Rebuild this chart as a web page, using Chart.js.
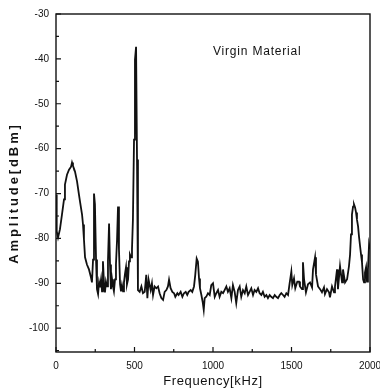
<!DOCTYPE html>
<html>
<head>
<meta charset="utf-8">
<script src="https://cdn.jsdelivr.net/npm/chart.js@4.4.1/dist/chart.umd.min.js"></script>
<style>
    html, body { margin: 0; padding: 0; background: #ffffff; }
    #spectrum { display: block; }
</style>
</head>
<body>
<canvas id="spectrum" width="380" height="392"></canvas>
<script>
// spectrum: frequency in kHz, amplitude in dBm
const frequency = [
    0, 3, 6, 13, 25, 38, 51, 57, 70, 83,
    96, 102, 108, 121, 134, 146, 153, 166, 172, 178,
    185, 197, 210, 223, 229, 236, 242, 248, 255, 261,
    268, 274, 280, 287, 293, 299, 306, 312, 318, 325,
    331, 338, 344, 350, 357, 363, 369, 376, 382, 389,
    395, 401, 408, 414, 420, 427, 433, 439, 446, 452,
    459, 465, 471, 478, 484, 490, 497, 503, 510, 516,
    522, 533, 544, 554, 565, 575, 582, 590, 603, 611,
    618, 628, 639, 650, 660, 671, 682, 692, 703, 713,
    720, 730, 741, 752, 760, 773, 781, 794, 805, 815,
    826, 836, 845, 858, 868, 879, 887, 896, 904, 911,
    917, 926, 934, 941, 947, 957, 968, 979, 989, 1000,
    1011, 1021, 1032, 1042, 1053, 1064, 1074, 1085, 1095, 1106,
    1117, 1127, 1138, 1148, 1159, 1170, 1180, 1191, 1202, 1212,
    1223, 1233, 1244, 1255, 1265, 1276, 1287, 1297, 1308, 1318,
    1329, 1340, 1350, 1361, 1371, 1382, 1393, 1403, 1414, 1425,
    1435, 1446, 1456, 1467, 1478, 1488, 1499, 1505, 1516, 1524,
    1537, 1548, 1554, 1567, 1573, 1580, 1592, 1605, 1618, 1631,
    1637, 1650, 1656, 1669, 1682, 1694, 1707, 1713, 1726, 1739,
    1745, 1758, 1771, 1777, 1790, 1796, 1809, 1822, 1828, 1841,
    1854, 1866, 1873, 1879, 1885, 1892, 1898, 1905, 1911, 1917,
    1924, 1930, 1937, 1943, 1949, 1956, 1962, 1968, 1975, 1981,
    1987, 1994, 2000
];
const amplitude = [
    -70.2, -74.7, -78.4, -79.8, -78.0, -74.7, -71.3, -68.0, -65.8, -64.7,
    -64.0, -63.1, -63.8, -65.1, -67.3, -70.2, -71.8, -74.7, -76.9, -80.2,
    -84.2, -85.8, -86.9, -88.7, -89.8, -84.7, -70.0, -72.4, -84.7, -91.3,
    -92.4, -89.8, -90.9, -89.1, -91.8, -85.1, -90.2, -92.0, -89.6, -90.7,
    -85.1, -76.7, -85.8, -91.3, -89.1, -90.7, -91.8, -89.1, -85.8, -80.2,
    -72.9, -82.4, -90.2, -91.8, -90.4, -91.8, -89.8, -88.0, -86.4, -90.2,
    -89.1, -85.1, -83.6, -84.2, -82.4, -75.8, -58.0, -40.2, -37.3, -62.4,
    -91.5, -91.9, -90.7, -92.2, -91.9, -88.1, -93.3, -89.2, -91.5, -90.0,
    -92.6, -90.7, -91.1, -90.7, -92.2, -93.3, -93.7, -91.9, -91.5, -90.7,
    -89.2, -91.1, -91.9, -92.2, -93.0, -92.2, -92.6, -91.9, -93.0, -92.2,
    -91.9, -92.6, -91.9, -91.5, -91.9, -90.7, -88.1, -84.5, -85.2, -88.9,
    -91.1, -92.6, -94.1, -95.9, -93.3, -93.0, -92.2, -92.6, -90.4, -90.0,
    -93.0, -92.2, -91.5, -93.0, -91.9, -92.2, -91.5, -90.7, -91.9, -91.1,
    -93.3, -90.4, -91.9, -94.4, -91.5, -90.7, -93.0, -91.5, -92.2, -90.7,
    -92.6, -91.9, -91.1, -92.6, -91.5, -91.9, -91.1, -92.2, -92.6, -91.9,
    -93.0, -92.6, -93.3, -92.6, -93.0, -93.3, -92.6, -93.0, -93.3, -92.6,
    -92.2, -92.6, -93.0, -92.2, -92.6, -90.0, -87.4, -90.4, -88.9, -91.1,
    -89.6, -89.6, -90.7, -91.3, -85.3, -89.1, -92.0, -90.2, -89.8, -90.9,
    -86.9, -84.2, -88.0, -90.7, -91.3, -92.0, -90.9, -92.4, -91.3, -92.0,
    -93.1, -90.7, -92.0, -90.7, -86.9, -91.3, -86.2, -89.8, -86.9, -89.8,
    -89.1, -86.2, -83.6, -79.1, -74.7, -72.9, -72.4, -73.1, -74.2, -75.8,
    -77.3, -79.6, -81.8, -83.6, -85.3, -89.1, -89.8, -87.6, -86.4, -89.6,
    -86.9, -81.3, -82.4
];

const xTicks = [0, 500, 1000, 1500, 2000];
const yTicks = [-100, -90, -80, -70, -60, -50, -40, -30];
const xMinorTicks = [250, 750, 1250, 1750];
const yMinorTicks = [-105, -95, -85, -75, -65, -55, -45, -35];
const noteText = "Virgin Material";
const xTitle = "Frequency[kHz]";
const yTitle = "Amplitude[dBm]";

const points = frequency.map((f, i) => ({ x: f, y: amplitude[i] }));
const fontFamily = "'Liberation Sans', Arial, sans-serif";

// frame on top/right, ticks pointing into the plot, and the spaced-out titles of the scan
const frameAndTicks = {
    id: "frameAndTicks",
    afterDraw(chart) {
        const { ctx, chartArea, scales } = chart;
        const { left, right, top, bottom } = chartArea;
        ctx.save();
        ctx.strokeStyle = "#111111";
        ctx.lineWidth = 1.4;
        ctx.strokeRect(left, top, right - left, bottom - top);

        ctx.lineWidth = 1.2;
        ctx.beginPath();
        xTicks.forEach((v) => {
            const px = scales.x.getPixelForValue(v);
            ctx.moveTo(px, bottom);
            ctx.lineTo(px, bottom - 5);
        });
        xMinorTicks.forEach((v) => {
            const px = scales.x.getPixelForValue(v);
            ctx.moveTo(px, bottom);
            ctx.lineTo(px, bottom - 3);
        });
        yTicks.forEach((v) => {
            const py = scales.y.getPixelForValue(v);
            ctx.moveTo(left, py);
            ctx.lineTo(left + 5, py);
        });
        yMinorTicks.forEach((v) => {
            const py = scales.y.getPixelForValue(v);
            ctx.moveTo(left, py);
            ctx.lineTo(left + 3, py);
        });
        ctx.stroke();

        ctx.fillStyle = "#111111";
        ctx.textBaseline = "middle";

        ctx.font = `12px ${fontFamily}`;
        ctx.letterSpacing = "0.8px";
        ctx.textAlign = "left";
        ctx.fillText(noteText, scales.x.getPixelForValue(1000), scales.y.getPixelForValue(-38.5));

        ctx.font = `13px ${fontFamily}`;
        ctx.letterSpacing = "0.6px";
        ctx.textAlign = "center";
        ctx.fillText(xTitle, (left + right) / 2, 381);

        ctx.save();
        ctx.translate(14, (top + bottom) / 2 + 10);
        ctx.rotate(-Math.PI / 2);
        ctx.font = `bold 13px ${fontFamily}`;
        ctx.letterSpacing = "2.9px";
        ctx.fillText(yTitle, 0, 0);
        ctx.restore();

        ctx.restore();
    }
};

new Chart(document.getElementById("spectrum"), {
    type: "scatter",
    data: {
        datasets: [{
            data: points,
            showLine: true,
            borderColor: "#111111",
            borderWidth: 1.8,
            pointRadius: 0,
            tension: 0
        }]
    },
    options: {
        responsive: false,
        animation: false,
        layout: { padding: { top: 14, right: 10, left: 0, bottom: 0 } },
        plugins: {
            legend: { display: false },
            tooltip: { enabled: false }
        },
        scales: {
            x: {
                type: "linear",
                min: 0,
                max: 2000,
                afterBuildTicks: (scale) => { scale.ticks = xTicks.map((v) => ({ value: v })); },
                afterFit: (scale) => {
                    scale.height = 40;
                    scale.paddingLeft = 0;
                    scale.paddingRight = 0;
                },
                grid: { display: false, drawTicks: false },
                border: { display: false },
                ticks: {
                    padding: 8,
                    color: "#111111",
                    callback: (v) => String(v),
                    font: { size: 10, family: fontFamily }
                }
            },
            y: {
                type: "linear",
                min: -105.3,
                max: -30,
                afterBuildTicks: (scale) => { scale.ticks = yTicks.map((v) => ({ value: v })); },
                afterFit: (scale) => {
                    scale.width = 56;
                    scale.paddingTop = 0;
                    scale.paddingBottom = 0;
                },
                grid: { display: false, drawTicks: false },
                border: { display: false },
                ticks: {
                    padding: 7,
                    color: "#111111",
                    callback: (v) => String(v),
                    font: { size: 10, family: fontFamily }
                }
            }
        }
    },
    plugins: [frameAndTicks]
});
</script>
</body>
</html>
